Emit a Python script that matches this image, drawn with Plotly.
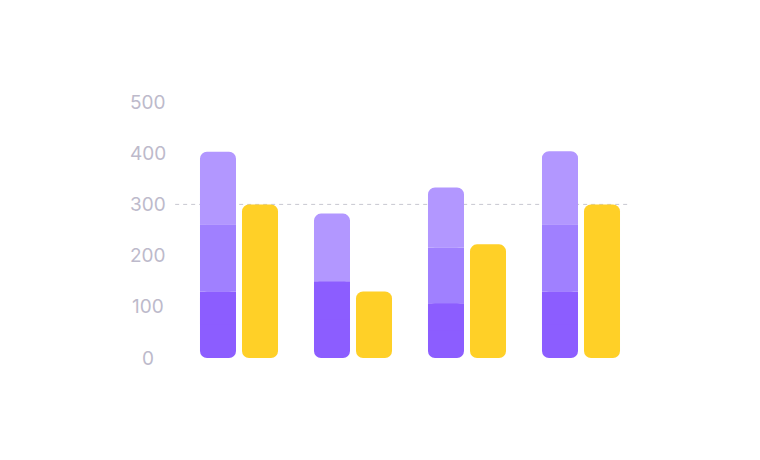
import plotly.graph_objects as go

categories = ["A", "B", "C", "D"]
series_bottom = [130, 150, 107, 130]
series_middle = [131, 0, 109, 131]
series_top = [142, 132, 117, 143]
series_yellow = [300, 130, 222, 300]
reference_value = 300
tick_values = [0, 100, 200, 300, 400, 500]
tick_labels = ["0", "100", "200", "300", "400", "500"]

C_DARK = "#8c5dff"
C_MID = "#a080ff"
C_LIGHT = "#b297ff"
C_YELLOW = "#ffd027"
RADIUS = 7
n = len(categories)
mid_top = [a + b for a, b in zip(series_bottom, series_middle)]


def bar(y, base, group, color, radius):
    return go.Bar(x=categories, y=y, base=base, offsetgroup=group,
                  marker=dict(color=color, cornerradius=radius, line=dict(width=0)),
                  hoverinfo="skip")


fig = go.Figure()
# purple stack (rounded pieces plus square covers to keep inner boundaries square)
fig.add_trace(bar(series_bottom, [0] * n, "p", C_DARK, RADIUS))
fig.add_trace(bar([v / 2 for v in series_bottom], [v / 2 for v in series_bottom], "p", C_DARK, 0))
fig.add_trace(bar(series_middle, series_bottom, "p", C_MID, 0))
fig.add_trace(bar(series_top, mid_top, "p", C_LIGHT, RADIUS))
fig.add_trace(bar([v / 2 for v in series_top], mid_top, "p", C_LIGHT, 0))
# yellow
fig.add_trace(bar(series_yellow, [0] * n, "y", C_YELLOW, RADIUS))

fig.add_shape(type="line", xref="paper", yref="y", x0=-0.015, x1=0.978,
              y0=reference_value, y1=reference_value,
              line=dict(color="#c8c8d0", width=1, dash="4px,4px"), layer="below")

for v, lab in zip(tick_values, tick_labels):
    fig.add_annotation(xref="paper", yref="y", x=-0.0746, y=v, text=lab, showarrow=False,
                       xanchor="center", yanchor="middle",
                       font=dict(family="Inter, Lato, sans-serif", size=19, color="#bdbacb"))

fig.update_layout(
    width=760, height=460,
    margin=dict(l=174, r=130, t=94, b=110),
    paper_bgcolor="white", plot_bgcolor="white",
    barmode="group", bargap=0.263, bargroupgap=0.143,
    showlegend=False,
    xaxis=dict(showticklabels=False, showgrid=False, zeroline=False, showline=False, ticks=""),
    yaxis=dict(range=[0, 500], showticklabels=False, showgrid=False, zeroline=False,
               showline=False, ticks=""),
)

fig.write_html("out.html")
